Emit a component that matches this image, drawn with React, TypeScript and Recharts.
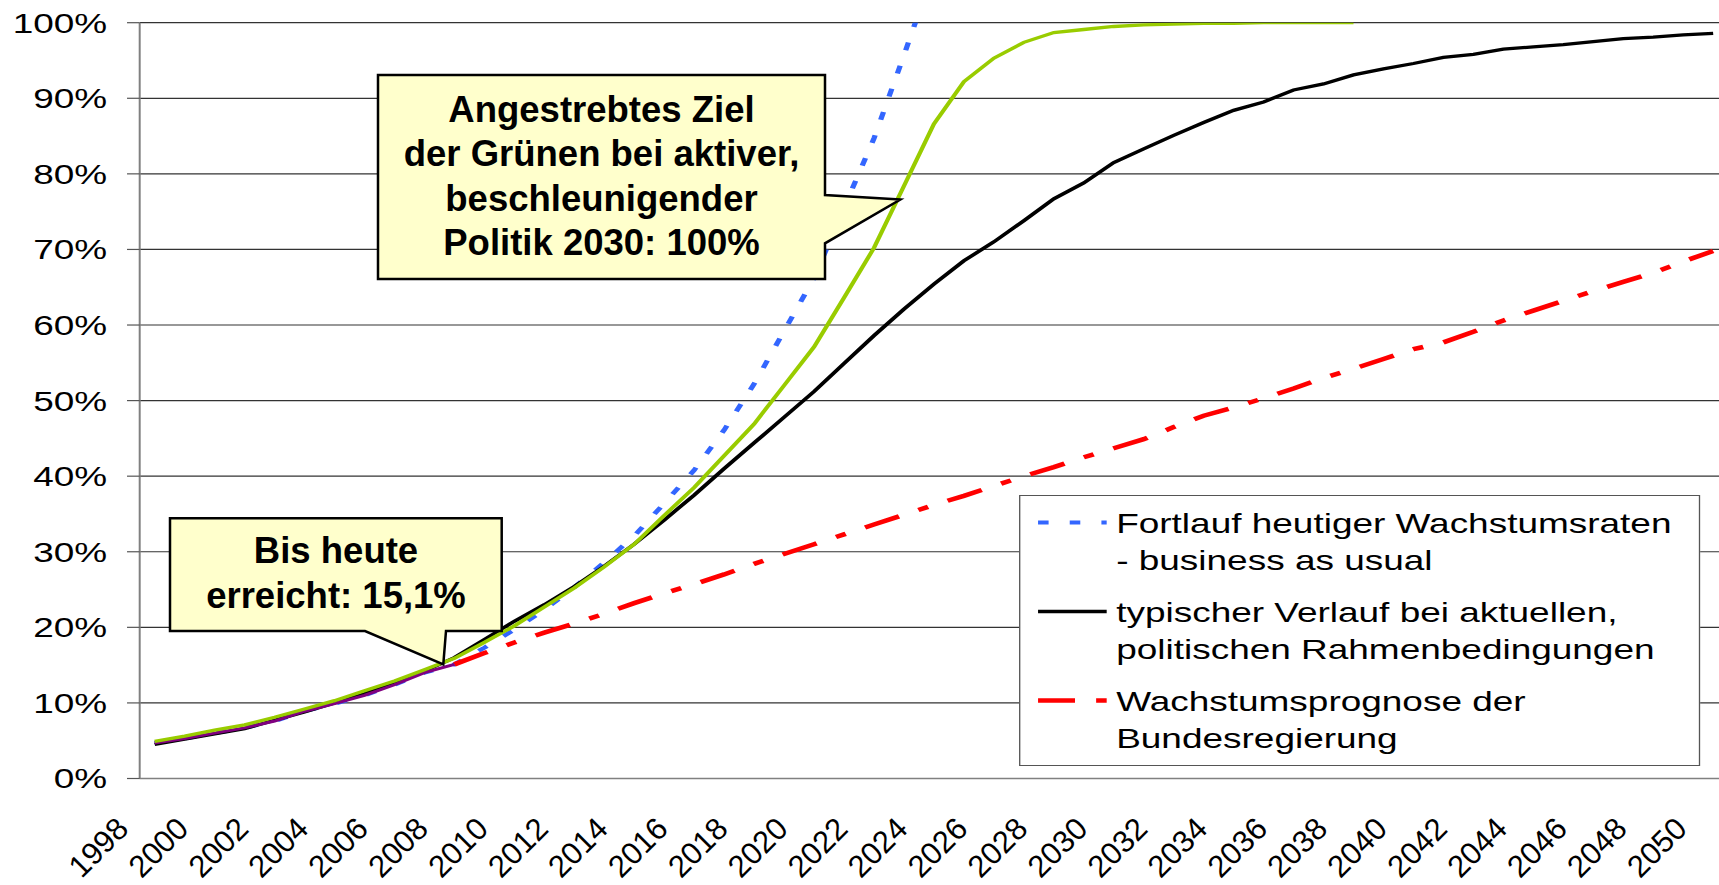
import { LineChart, Line, XAxis, YAxis, CartesianGrid, Legend } from "recharts";

const FONT = '"Liberation Sans", Arial, Helvetica, sans-serif';
// the original slide shows the chart stretched sideways, the callouts are not
const STRETCH = 1.32;

const YEARS = [
  1998, 1999, 2000, 2001, 2002, 2003, 2004, 2005, 2006, 2007, 2008, 2009, 2010, 2011,
  2012, 2013, 2014, 2015, 2016, 2017, 2018, 2019, 2020, 2021, 2022, 2023, 2024, 2025,
  2026, 2027, 2028, 2029, 2030, 2031, 2032, 2033, 2034, 2035, 2036, 2037, 2038, 2039,
  2040, 2041, 2042, 2043, 2044, 2045, 2046, 2047, 2048, 2049, 2050,
];
const LABEL_YEARS = [
  1998, 2000, 2002, 2004, 2006, 2008, 2010, 2012, 2014, 2016, 2018, 2020, 2022, 2024,
  2026, 2028, 2030, 2032, 2034, 2036, 2038, 2040, 2042, 2044, 2046, 2048, 2050,
];
const Y_TICKS = [0, 10, 20, 30, 40, 50, 60, 70, 80, 90, 100];

// Fortlauf heutiger Wachstumsraten (blue, dotted)
const BAU_START = 1998;
const BAU = [
  4.7, 5.3, 6.0, 6.7, 7.6, 8.9, 9.9, 11.0, 12.4, 14.0, 15.1, 17.3, 19.7, 22.3, 25.3,
  28.6, 32.1, 36.4, 40.8, 46.1, 52.2, 59.2, 66.2, 75.5, 84.7, 95.7, 107,
];

// typischer Verlauf (black)
const TYPISCH_START = 1998;
const TYPISCH = [
  4.5, 5.2, 5.9, 6.6, 7.7, 8.8, 10.0, 11.2, 12.7, 14.2, 16.0, 18.4, 20.8, 23.0, 25.4,
  28.1, 31.0, 34.2, 37.5, 41.0, 44.4, 47.8, 51.2, 54.9, 58.6, 62.1, 65.4, 68.5, 71.0,
  73.8, 76.7, 78.8, 81.5, 83.3, 85.1, 86.8, 88.4, 89.5, 91.1, 91.9, 93.1, 93.9, 94.6,
  95.4, 95.8, 96.5, 96.8, 97.1, 97.5, 97.9, 98.1, 98.4, 98.6,
];

// Wachstumsprognose der Bundesregierung (red, dash-dot)
const BUND_START = 2008;
const BUND = [
  15.1, 16.6, 18.0, 19.3, 20.5, 21.8, 23.2, 24.5, 25.7, 27.0, 28.4, 29.7, 31.0, 32.3,
  33.6, 34.9, 36.2, 37.4, 38.7, 40.0, 41.2, 42.5, 43.7, 44.9, 46.5, 48.0, 49.1, 50.3,
  51.6, 53.0, 54.2, 55.5, 56.8, 57.7, 59.1, 60.6, 61.9, 63.2, 64.5, 65.7, 66.9, 68.4,
  69.8,
];

// Ziel der Grünen (green)
const GRUENE_START = 1998;
const GRUENE = [
  4.9, 5.6, 6.4, 7.1, 8.1, 9.2, 10.3, 11.6, 12.9, 14.4, 15.9, 18.0, 20.2, 22.7, 25.2,
  28.0, 31.0, 34.8, 38.5, 42.7, 46.9, 52.0, 57.1, 63.6, 70.2, 78.4, 86.6, 92.2, 95.3,
  97.4, 98.7, 99.1, 99.5, 99.7, 99.8, 99.9, 99.9, 100, 100, 100, 100,
];

// bisher erreicht (purple)
const HIST_START = 1998;
const HIST = [4.7, 5.3, 6.0, 6.7, 7.6, 8.9, 9.9, 11.0, 12.4, 14.0, 15.1];

const NAMES = {
  bau: "Fortlauf heutiger Wachstumsraten\n- business as usual",
  typisch: "typischer Verlauf bei aktuellen,\npolitischen Rahmenbedingungen",
  bund: "Wachstumsprognose der\nBundesregierung",
};
const LEGEND_ORDER = ["bau", "typisch", "bund"];

const STYLE: Record<string, { color: string; width: number; dash?: string }> = {
  bau: { color: "#3366FF", width: 4, dash: "8 16" },
  typisch: { color: "#000000", width: 3.3 },
  bund: { color: "#FF0000", width: 4.5, dash: "28 16 8 16" },
  gruene: { color: "#99CC00", width: 3.3 },
  hist: { color: "#800080", width: 3 },
};

const pick = (arr: number[], start: number, year: number) => {
  const v = arr[year - start];
  return v === undefined ? null : v;
};

const data = YEARS.map((year) => ({
  year,
  bau: pick(BAU, BAU_START, year),
  typisch: pick(TYPISCH, TYPISCH_START, year),
  bund: pick(BUND, BUND_START, year),
  gruene: pick(GRUENE, GRUENE_START, year),
  hist: pick(HIST, HIST_START, year),
}));

// layout (chart units, x before stretching)
const CHART_W = 1330;
const CHART_H = 885;
const PLOT_TOP = 22.7;
const Y_AXIS_W = 105.83;
const MARGIN_RIGHT = 20.8;
const MARKS_H = 10;
const LABELS_H = 96.5;
const PLOT_BOTTOM = CHART_H - MARKS_H - LABELS_H;
const X_DOMAIN: [number, number] = [1997.5, 2050.5];
const TICK_MARKS = YEARS.map((y) => y - 0.5).concat([2050.5]);

const plotW = CHART_W - Y_AXIS_W - MARGIN_RIGHT;
const sx = (year: number) =>
  (Y_AXIS_W + ((year - X_DOMAIN[0]) / (X_DOMAIN[1] - X_DOMAIN[0])) * plotW) * STRETCH;
const sy = (v: number) => PLOT_BOTTOM - (v / 100) * (PLOT_BOTTOM - PLOT_TOP);

// year labels sit at a true 45 degrees on screen, so undo the stretch for them
function YearTick(props: any) {
  const { x, y, payload } = props;
  const px = x - 18.5;
  const py = y + 42;
  return (
    <g transform={`translate(${px},${py}) scale(${1 / STRETCH},1) rotate(-45)`}>
      <text x={0} y={0} textAnchor="end" fontSize={31} fontFamily={FONT} fill="#000">
        {payload.value}
      </text>
    </g>
  );
}

function LegendBox(props: any) {
  const payload = props.payload || [];
  const items = LEGEND_ORDER.map((key) => payload.find((p: any) => p.dataKey === key)).filter(Boolean);
  return (
    <div
      style={{
        border: "1.5px solid #555",
        background: "#fff",
        padding: "9px 0 10px 0",
        boxSizing: "border-box",
        height: 271,
        fontFamily: FONT,
      }}
    >
      {items.map((p: any, i: number) => {
        const st = STYLE[p.dataKey];
        return (
          <div key={p.dataKey} style={{ display: "flex", marginTop: i ? 15 : 0 }}>
            <svg width={72.4} height={37} style={{ flex: "none" }}>
              <line
                x1={13.4}
                x2={65.4}
                y1={17.5}
                y2={17.5}
                stroke={st.color}
                strokeWidth={st.width}
                strokeDasharray={st.dash}
              />
            </svg>
            <div style={{ fontSize: 28, lineHeight: "37px", whiteSpace: "pre-line", color: "#000" }}>
              {p.value}
            </div>
          </div>
        );
      })}
    </div>
  );
}

const CALLOUTS = [
  {
    box: { x: 378, y: 75, w: 447, h: 204 },
    side: "right",
    base: [195, 243.3],
    tip: { year: 2022.88, value: 76.6 },
    cx: 601.5,
    lines: ["Angestrebtes Ziel", "der Grünen bei aktiver,", "beschleunigender", "Politik 2030: 100%"],
    baselines: [121.7, 166.2, 210.7, 255.2],
  },
  {
    box: { x: 170, y: 518.3, w: 331.7, h: 112.7 },
    side: "bottom",
    base: [365, 446],
    tip: { year: 2007.63, value: 15.1 },
    cx: 336,
    lines: ["Bis heute", "erreicht: 15,1%"],
    baselines: [563.3, 608.3],
  },
];

function calloutPath(c: (typeof CALLOUTS)[number]) {
  const { x, y, w, h } = c.box;
  const tx = sx(c.tip.year);
  const ty = sy(c.tip.value);
  if (c.side === "right") {
    return `M${x},${y} H${x + w} V${c.base[0]} L${tx},${ty} L${x + w},${c.base[1]} V${y + h} H${x} Z`;
  }
  return `M${x},${y} H${x + w} V${y + h} H${c.base[1]} L${tx},${ty} L${c.base[0]},${y + h} H${x} Z`;
}

export default function App() {
  return (
    <div
      style={{
        position: "fixed",
        left: 0,
        top: 0,
        width: 1719,
        height: 885,
        overflow: "hidden",
        background: "#fff",
      }}
    >
      <div style={{ transform: `scaleX(${STRETCH})`, transformOrigin: "0 0", width: CHART_W, height: CHART_H }}>
        <LineChart
          width={CHART_W}
          height={CHART_H}
          data={data}
          margin={{ top: PLOT_TOP, right: MARGIN_RIGHT, bottom: 0, left: 0 }}
        >
          <CartesianGrid vertical={false} stroke="#333" strokeWidth={1.2} />
          <XAxis
            dataKey="year"
            type="number"
            domain={X_DOMAIN}
            ticks={TICK_MARKS}
            interval={0}
            tick={false}
            tickSize={MARKS_H}
            height={MARKS_H}
            axisLine={{ stroke: "#808080", strokeWidth: 1.5 }}
            tickLine={{ stroke: "#666", strokeWidth: 0.9 }}
          />
          <XAxis
            xAxisId="labels"
            dataKey="year"
            type="number"
            domain={X_DOMAIN}
            ticks={LABEL_YEARS}
            interval={0}
            tickLine={false}
            axisLine={false}
            tickSize={0}
            tickMargin={0}
            height={LABELS_H}
            tick={<YearTick />}
          />
          <YAxis
            type="number"
            domain={[0, 100]}
            ticks={Y_TICKS}
            interval={0}
            allowDataOverflow
            width={Y_AXIS_W}
            tickSize={9.6}
            tickMargin={15}
            tickFormatter={(v) => `${v}%`}
            tick={{ fontSize: 28, fill: "#000", fontFamily: FONT }}
            axisLine={{ stroke: "#808080", strokeWidth: 1.5 }}
            tickLine={{ stroke: "#555", strokeWidth: 1.2 }}
          />
          <Legend
            content={<LegendBox />}
            layout="horizontal"
            verticalAlign="middle"
            align="center"
            wrapperStyle={{ left: 772.2, top: 495, width: 516.1 }}
          />
          <Line
            dataKey="bau"
            name={NAMES.bau}
            type="linear"
            stroke={STYLE.bau.color}
            strokeWidth={STYLE.bau.width}
            strokeDasharray={STYLE.bau.dash}
            dot={false}
            activeDot={false}
            isAnimationActive={false}
          />
          <Line
            dataKey="typisch"
            name={NAMES.typisch}
            type="linear"
            stroke={STYLE.typisch.color}
            strokeWidth={STYLE.typisch.width}
            dot={false}
            activeDot={false}
            isAnimationActive={false}
          />
          <Line
            dataKey="bund"
            name={NAMES.bund}
            type="linear"
            stroke={STYLE.bund.color}
            strokeWidth={STYLE.bund.width}
            strokeDasharray={STYLE.bund.dash}
            dot={false}
            activeDot={false}
            isAnimationActive={false}
          />
          <Line
            dataKey="hist"
            legendType="none"
            type="linear"
            stroke={STYLE.hist.color}
            strokeWidth={STYLE.hist.width}
            dot={false}
            activeDot={false}
            isAnimationActive={false}
          />
          <Line
            dataKey="gruene"
            legendType="none"
            type="linear"
            stroke={STYLE.gruene.color}
            strokeWidth={STYLE.gruene.width}
            dot={false}
            activeDot={false}
            isAnimationActive={false}
          />
        </LineChart>
      </div>
      <svg width={1719} height={885} style={{ position: "absolute", left: 0, top: 0, pointerEvents: "none" }}>
        {CALLOUTS.map((c, i) => (
          <g key={i}>
            <path d={calloutPath(c)} fill="#FFFFCC" stroke="#000" strokeWidth={2.5} strokeLinejoin="miter" />
            {c.lines.map((t, j) => (
              <text
                key={j}
                x={c.cx}
                y={c.baselines[j]}
                textAnchor="middle"
                fontSize={36.5}
                fontWeight="bold"
                fontFamily={FONT}
                fill="#000"
              >
                {t}
              </text>
            ))}
          </g>
        ))}
      </svg>
    </div>
  );
}
